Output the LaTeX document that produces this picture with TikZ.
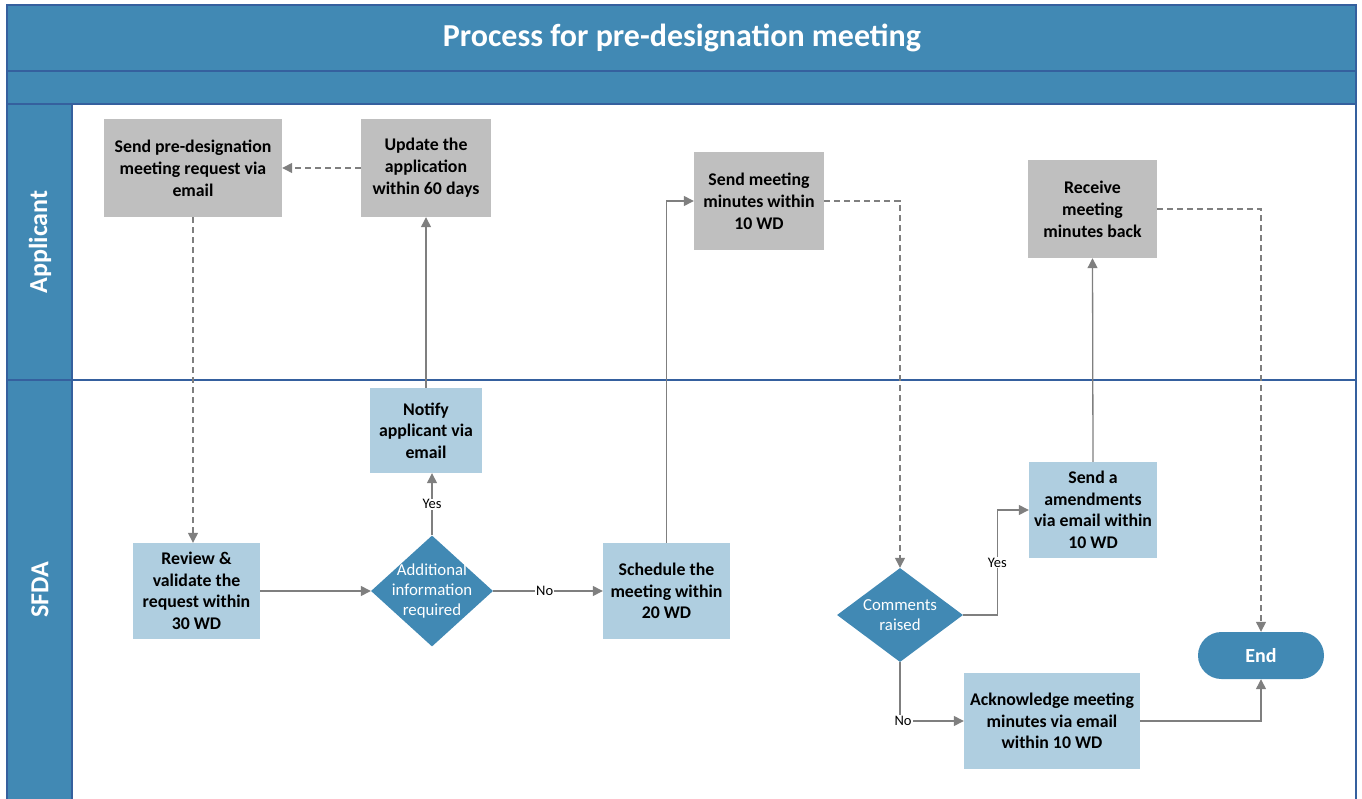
\documentclass[tikz,border=0pt]{standalone}
\usepackage{fontspec}
\setmainfont{Carlito}
\usetikzlibrary{shapes.geometric,arrows.meta}
\definecolor{hdr}{HTML}{4189B4}
\definecolor{lbl}{HTML}{AFCEE0}
\definecolor{gbx}{HTML}{BFBFBF}
\definecolor{ln}{HTML}{7F7F7F}
\definecolor{frm}{HTML}{35609E}
\begin{document}
\begin{tikzpicture}[x=1pt,y=-1pt,
  graybox/.style={fill=gbx, draw=none, font=\bfseries\fontsize{17.8}{22}\selectfont, align=center, inner sep=0pt},
  bluebox/.style={fill=lbl, draw=none, font=\bfseries\fontsize{17.8}{21.5}\selectfont, align=center, inner sep=0pt},
  dec/.style={diamond, fill=hdr, draw=none, inner sep=0pt, minimum width=122pt, minimum height=111pt},
  dectext/.style={text=white, font=\fontsize{16.8}{19.8}\selectfont, align=center, inner sep=0pt},
  arr/.style={draw=ln, line width=1.3pt, -{Triangle[length=10pt,width=10pt]}},
  dsh/.style={arr, dash pattern=on 6pt off 4pt},
  lab/.style={fill=white, font=\fontsize{14.5}{16}\selectfont, inner sep=1pt, text=black},
  lanelab/.style={text=white, font=\bfseries\fontsize{26}{30}\selectfont, rotate=90}
]
\useasboundingbox (0,0) rectangle (1362,799);
% frame
\fill[hdr] (7,5) rectangle (1356,104);
\fill[hdr] (7,104) rectangle (72,810);
\draw[frm, line width=1.2pt] (7,810) -- (7,5) -- (1356,5) -- (1356,810);
\draw[frm, line width=1.2pt] (7,71) -- (1356,71);
\draw[frm, line width=1.2pt] (7,104) -- (1356,104);
\draw[frm, line width=1.2pt] (72,104) -- (72,810);
\draw[frm, line width=1.2pt] (7,380) -- (1356,380);
\node[text=white, font=\bfseries\fontsize{32}{36}\selectfont] (title) at (682,38) {Process for pre-designation meeting};
\node[lanelab] (lapp) at (40,242) {Applicant};
\node[lanelab] (lsfda) at (40,590) {SFDA};

% nodes
\node[graybox, minimum width=178pt, minimum height=98pt] (s1) at (193,168) {Send pre-designation\\meeting request via\\email};
\node[graybox, minimum width=130pt, minimum height=98pt] (upd) at (426,168) {Update the\\application\\within 60 days};
\node[graybox, minimum width=130pt, minimum height=98pt] (smm) at (759,201) {Send meeting\\minutes within\\10 WD};
\node[graybox, minimum width=129pt, minimum height=98pt] (rcv) at (1092.5,209) {Receive\\meeting\\minutes back};

\node[bluebox, minimum width=112pt, minimum height=85pt] (nt) at (426,430.5) {Notify\\applicant via\\email};
\node[bluebox, minimum width=127pt, minimum height=96pt] (rev) at (196.5,591) {Review \&\\validate the\\request within\\30 WD};
\node[dec] (d1) at (432,591) {};
\node[dectext] (d1t) at (d1) {Additional\\information\\required};
\node[bluebox, minimum width=127pt, minimum height=96pt] (sch) at (666.5,591) {Schedule the\\meeting within\\20 WD};
\node[dec, minimum width=126pt, minimum height=94pt] (cr) at (900,615) {};
\node[dectext] (crt) at (cr) {Comments\\raised};
\node[bluebox, minimum width=128pt, minimum height=96pt] (sa) at (1093,510) {Send a\\amendments\\via email within\\10 WD};
\node[bluebox, minimum width=176pt, minimum height=96pt] (ack) at (1052,721) {Acknowledge meeting\\minutes via email\\within 10 WD};
\node[fill=hdr, rounded corners=23.5pt, minimum width=126pt, minimum height=47pt, inner sep=0pt, text=white, font=\bfseries\fontsize{20}{22}\selectfont] (end) at (1261,655.5) {End};

% connectors
\draw[dsh] (s1.south) -- (s1.south |- rev.north);
\draw[dsh] (upd.west) -- (s1.east);
\draw[arr] (rev.east) -- (d1.west);
\draw[arr] (d1.north) -- (d1.north |- nt.south) node[lab, pos=0.5] {Yes};
\draw[arr] (nt.north) -- (upd.south);
\draw[arr] (d1.east) -- (sch.west) node[lab, pos=0.47] {No};
\draw[arr] (sch.north) |- (smm.west);
\draw[dsh] (smm.east) -| (cr.north);
\draw[arr] (cr.east) -- ++(34,0) coordinate (k1) -- (k1 |- sa.west) node[lab, pos=0.5] {Yes} -- (sa.west);
\draw[arr] (cr.south) -- (cr.south |- ack.west) node[lab, xshift=3pt] {No} -- (ack.west);
\draw[arr] (sa.north) -- (rcv.south);
\draw[dsh] (rcv.east) -| (end.north);
\draw[arr] (ack.east) -| (end.south);
\end{tikzpicture}
\end{document}
